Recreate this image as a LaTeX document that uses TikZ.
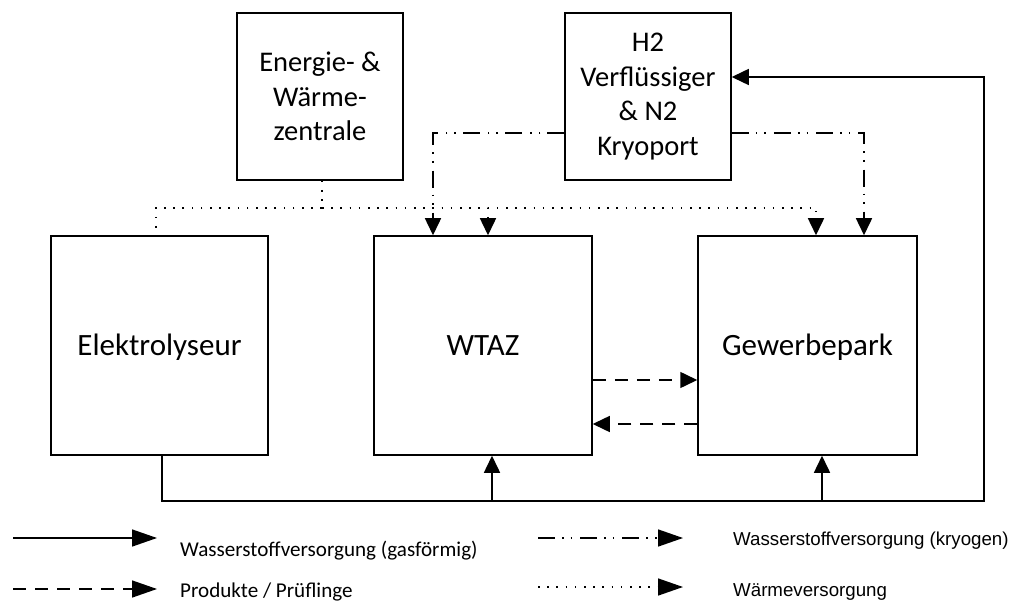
\documentclass[tikz,border=0pt]{standalone}
\usepackage{fontspec}
\setmainfont{Carlito}
\newfontfamily\arialf{Liberation Sans}
\usetikzlibrary{arrows.meta}
\tikzset{
  box/.style={draw, line width=1.5pt, align=center, inner sep=0pt},
  topbox/.style={box, minimum width=166pt, minimum height=167pt, font=\fontsize{28.5pt}{34.8pt}\selectfont},
  mainbox/.style={box, minimum width=217pt, minimum height=219pt, text height=26pt, text depth=7pt, font=\fontsize{31pt}{37pt}\selectfont},
  con/.style={line width=1.5pt},
  gas/.style={con},
  prod/.style={con, dash pattern=on 13pt off 9pt},
  kryo/.style={con, dash pattern=on 17pt off 7pt on 1.6pt off 7pt on 1.6pt off 8pt},
  heat/.style={con, dash pattern=on 1.6pt off 7.6pt},
  tip/.style={-{Triangle[length=17pt,width=16pt]}},
  ltip/.style={-{Triangle[length=25pt,width=17pt]}},
  legl/.style={anchor=base west, inner sep=0pt, font=\fontsize{21.1pt}{24pt}\selectfont},
  legr/.style={anchor=base west, inner sep=0pt, font=\arialf\fontsize{18.7pt}{22pt}\selectfont},
}
\begin{document}
\begin{tikzpicture}[x=1pt,y=-1pt]
\useasboundingbox (0,0) rectangle (1016,601);
% boxes
\node[topbox] (ewz) at (320,96.5) {Energie- \&\\Wärme-\\zentrale};
\node[topbox] (h2) at (648,96.5) {H2\\Verflüssiger\\\& N2\\Kryoport};
\node[mainbox] (elek) at (159.5,345.5) {Elektrolyseur};
\node[mainbox, minimum width=218pt] (wtaz) at (483,345.5) {WTAZ};
\node[mainbox, minimum width=219pt] (gew) at (807.5,345.5) {Gewerbepark};
% heat (dotted)
\coordinate (hj) at (322,208);
\draw[heat] ([xshift=2pt]ewz.south) -- (hj);
\draw[heat] (hj) -| ([xshift=-3.5pt]elek.north);
\draw[heat, tip] (hj) -| ([xshift=5pt]wtaz.north);
\draw[heat, tip] (hj) -| ([xshift=8.5pt]gew.north);
% cryogenic (dash dot dot)
\draw[kryo, tip] ([yshift=-36.5pt]h2.west) -| ([xshift=-50pt]wtaz.north);
\draw[kryo, tip] ([yshift=-36.5pt]h2.east) -| ([xshift=56.5pt]gew.north);
% gaseous (solid)
\coordinate (br) at (984,501);
\draw[gas, tip] ([xshift=2.5pt]elek.south) |- (br) |- ([yshift=19.5pt]h2.east);
\draw[gas, tip] ([xshift=9pt]wtaz.south |- br) -- ([xshift=9pt]wtaz.south);
\draw[gas, tip] ([xshift=14.5pt]gew.south |- br) -- ([xshift=14.5pt]gew.south);
% products (dashed)
\draw[prod, tip] ([yshift=-34.5pt]wtaz.east) -- ([yshift=-34.5pt]gew.west);
\draw[prod, tip] ([yshift=-78.5pt]gew.west) -- ([yshift=-78.5pt]wtaz.east);
% legend
\coordinate (l1a) at (13,538); \coordinate (l1b) at (157,538);
\coordinate (l2a) at (13,589); \coordinate (l2b) at (157,589);
\coordinate (l3a) at (538,538); \coordinate (l3b) at (683,538);
\coordinate (l4a) at (538,587); \coordinate (l4b) at (683,587);
\draw[gas, ltip] (l1a) -- (l1b);
\draw[prod, ltip] (l2a) -- (l2b);
\draw[kryo, ltip] (l3a) -- (l3b);
\draw[heat, ltip] (l4a) -- (l4b);
\node[legl] (t1) at (180,556) {Wasserstoffversorgung (gasförmig)};
\node[legl] (t2) at (180,597) {Produkte / Prüflinge};
\node[legr] (t3) at (733,545) {Wasserstoffversorgung (kryogen)};
\node[legr] (t4) at (733,596) {Wärmeversorgung};
\end{tikzpicture}
\end{document}
